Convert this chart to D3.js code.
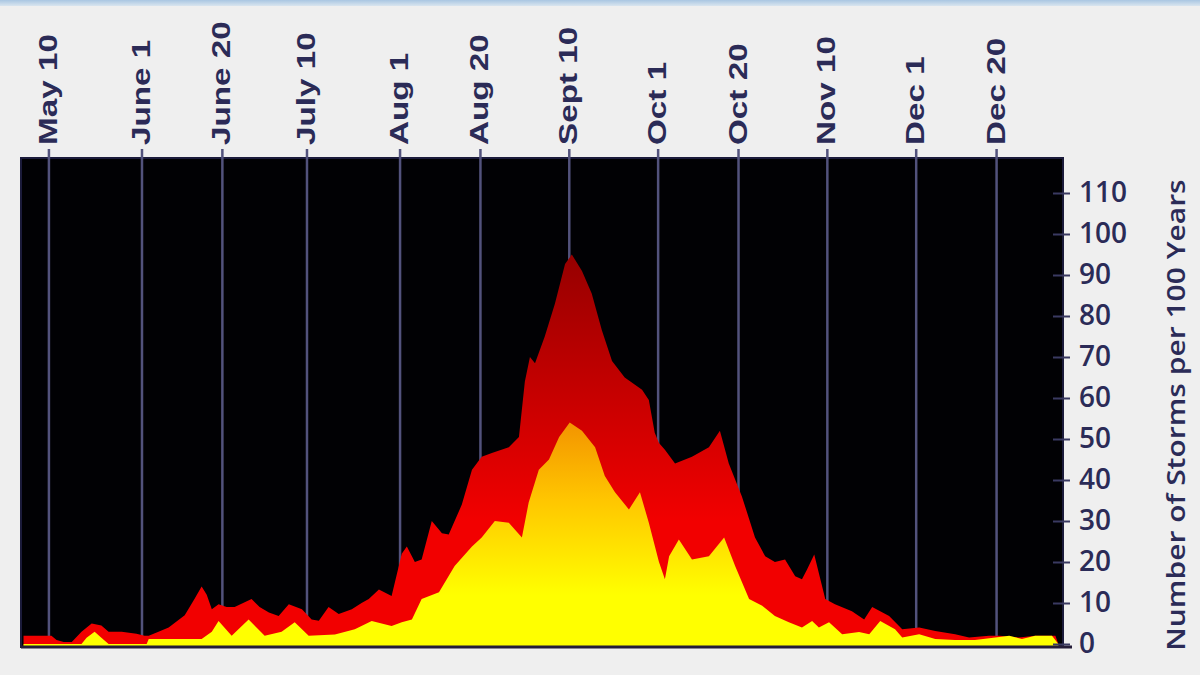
<!DOCTYPE html>
<html>
<head>
<meta charset="utf-8">
<script src="https://cdn.jsdelivr.net/npm/d3@7"></script>
<style>
  html, body { margin: 0; padding: 0; background: #efefef; }
  svg { display: block; }
</style>
</head>
<body>
<svg id="chart" width="1200" height="675"></svg>
<script>
// date ticks (day of year) and their labels
const tickDays = [130, 152, 171, 191, 213, 232, 253, 274, 293, 314, 335, 354];
const tickLabels = ['May 10', 'June 1', 'June 20', 'July 10', 'Aug 1', 'Aug 20',
  'Sept 10', 'Oct 1', 'Oct 20', 'Nov 10', 'Dec 1', 'Dec 20'];
const yTicks = [0, 10, 20, 30, 40, 50, 60, 70, 80, 90, 100, 110];

// all storms (red) - day of year, storms per 100 years
const stormDays = [124, 127, 130.6, 131.8, 133.5, 135.4, 137.7, 140.1, 142.4, 144.1, 147.2, 150.7,
  152.6, 153.6, 155.9, 158.3, 162.1, 164.4, 166.1, 167.3, 168.5, 170.1, 172, 173.9, 177.9, 179.8,
  182, 184.3, 186.7, 189.8, 192.1, 193.8, 196.1, 198.5, 201.6, 203.9, 205.6, 208, 211, 213.4,
  214.6, 216.5, 218.1, 220.5, 222.9, 224.5, 227.6, 230, 232.3, 234.7, 238.7, 241.1, 242.5, 243.7,
  244.9, 247.2, 249.6, 252, 253.6, 256, 258.3, 260.7, 263.1, 266.1, 270.2, 271.8, 273.2, 274.2,
  275.6, 278, 282, 286, 288.6, 290.7, 293.8, 296.9, 299.3, 301.6, 304, 306.4, 308, 309.2, 310.9,
  313.5, 315.8, 319.8, 322.7, 324.6, 328.6, 331.7, 335.7, 339.5, 344.2, 347.5, 352.2, 354.6,
  359.3, 363.1, 367.9, 368.6];
const stormValues = [2, 2, 2, 1, 0.5, 0.5, 3, 5, 4.5, 3, 3, 2.5,
  2, 2, 3, 4, 7, 11, 14, 12, 8.5, 9.7, 9, 9, 11, 9,
  7.7, 6.8, 9.7, 8.5, 6, 5.7, 9, 7.3, 8.5, 10, 11, 13.3, 11.7, 22,
  23.8, 20, 20.6, 30, 27, 26.7, 34, 42.5, 45.7, 46.6, 48, 50.5, 64, 70,
  68.5, 75, 83, 92.7, 95, 91, 85.5, 76.5, 69, 65, 62, 59.5, 51.5, 49,
  47.4, 44, 45.7, 48, 52, 44, 36, 26, 21.4, 20, 20.6, 16.5, 15.8, 18.2, 21.8,
  11, 9.7, 8, 6, 9, 6.8, 3.6, 4, 3.2, 2.4, 1.6, 2, 2,
  1.6, 2, 2, 0];

// hurricanes (yellow)
const hurrDays = [124, 137.7, 138.9, 140.8, 142.4, 144.1, 153.1, 153.6, 166.1, 168.5, 170.1, 173.2,
  177.2, 181, 185, 188.1, 191.4, 197.6, 202.3, 206.3, 211, 213.4, 215.8, 218.1, 222.2, 225.9,
  230, 232.3, 235.4, 238.7, 241.8, 243.4, 245.8, 248.2, 250.6, 253.1, 256, 259.1, 261.4, 263.8,
  267.1, 269.7, 271.8, 274.2, 275.6, 276.6, 278.9, 282, 286, 289.6, 292.2, 295.5, 298.6, 301.6,
  304.9, 308, 310.4, 312, 314.4, 317.5, 321.5, 323.9, 326.5, 330, 331.7, 335.7, 339.5, 344.2,
  348.9, 353.7, 357, 360, 363.1, 367.1, 368.6];
const hurrValues = [0, 0, 1.5, 3, 1.5, 0, 0, 1.2, 1.2, 3, 5.6, 2,
  6, 2, 3, 5.3, 2, 2.3, 3.6, 5.6, 4.4, 5.3, 6, 11, 12.6, 19,
  23.8, 26, 30, 29.6, 26, 34.5, 42.5, 45, 50.5, 54, 52, 48, 41, 37,
  32.8, 37, 29.6, 20, 15.8, 21.4, 25.5, 20.6, 21.4, 26, 19, 11, 9.3, 6.8,
  5.3, 4, 5.6, 4, 5.3, 2.4, 2.9, 2.4, 5.6, 3.6, 1.6, 2.4, 1.2, 1,
  1, 1.6, 2, 1.2, 2, 2, 0];

const svg = d3.select('#chart');
const plot = { left: 21, right: 1063, top: 158, bottom: 647 };
const ink = '#2b2b57';

const x = d3.scaleLinear().domain([123.4, 369.7]).range([plot.left, plot.right]);
const y = d3.scaleLinear().domain([0, 110]).range([644, 193]);

// background + thin blue strip at the very top
const defs = svg.append('defs');
const band = defs.append('linearGradient').attr('id', 'band').attr('x1', 0).attr('y1', 0).attr('x2', 0).attr('y2', 1);
band.append('stop').attr('offset', 0).attr('stop-color', '#a9c6e2');
band.append('stop').attr('offset', 1).attr('stop-color', '#d9e5ef');
svg.append('rect').attr('width', 1200).attr('height', 675).attr('fill', '#efefef');
svg.append('rect').attr('width', 1200).attr('height', 6).attr('fill', 'url(#band)');

// gradients follow the height on screen
const redGrad = defs.append('linearGradient').attr('id', 'redGrad')
  .attr('gradientUnits', 'userSpaceOnUse')
  .attr('x1', 0).attr('x2', 0).attr('y1', y(95)).attr('y2', y(30));
redGrad.append('stop').attr('offset', 0).attr('stop-color', '#960000');
redGrad.append('stop').attr('offset', 0.5).attr('stop-color', '#c40000');
redGrad.append('stop').attr('offset', 1).attr('stop-color', '#f20000');

const yelGrad = defs.append('linearGradient').attr('id', 'yelGrad')
  .attr('gradientUnits', 'userSpaceOnUse')
  .attr('x1', 0).attr('x2', 0).attr('y1', y(54)).attr('y2', y(12));
yelGrad.append('stop').attr('offset', 0).attr('stop-color', '#f39400');
yelGrad.append('stop').attr('offset', 0.45).attr('stop-color', '#ffc600');
yelGrad.append('stop').attr('offset', 1).attr('stop-color', '#ffff00');

// plot area
svg.append('rect')
  .attr('x', plot.left).attr('y', plot.top)
  .attr('width', plot.right - plot.left).attr('height', plot.bottom - plot.top)
  .attr('fill', '#010104')
  .attr('stroke', '#1b1b3b').attr('stroke-width', 2);

// vertical date lines (they poke out above the plot as ticks)
svg.append('g').selectAll('line')
  .data(tickDays)
  .enter().append('line')
  .attr('x1', d => x(d)).attr('x2', d => x(d))
  .attr('y1', 149).attr('y2', plot.bottom)
  .attr('stroke', '#52527c').attr('stroke-width', 2.5);

// date labels, rotated and stretched along their length
svg.append('g').selectAll('text')
  .data(tickDays)
  .enter().append('text')
  .attr('transform', d => 'translate(' + x(d) + ',145) rotate(-90) scale(1.33,1)')
  .attr('y', 8)
  .attr('text-anchor', 'start')
  .attr('font-family', '"Liberation Sans", Arial, sans-serif')
  .attr('font-weight', 'bold')
  .attr('font-size', 25)
  .attr('fill', ink)
  .text((d, i) => tickLabels[i]);

// areas
const stormData = stormDays.map((d, i) => [d, stormValues[i]]);
const hurrData = hurrDays.map((d, i) => [d, hurrValues[i]]);

const area = d3.area()
  .x(d => x(d[0]))
  .y0(plot.bottom)
  .y1(d => y(d[1]));

svg.append('path').datum(stormData).attr('d', area).attr('fill', 'url(#redGrad)');
svg.append('path').datum(hurrData).attr('d', area).attr('fill', 'url(#yelGrad)');

// bottom axis line
svg.append('line')
  .attr('x1', plot.left).attr('x2', 1072)
  .attr('y1', plot.bottom).attr('y2', plot.bottom)
  .attr('stroke', '#241c38').attr('stroke-width', 3);

// right value axis
const yAxis = svg.append('g')
  .attr('transform', 'translate(1053,0)')
  .call(d3.axisRight(y).tickValues(yTicks).tickSize(17).tickPadding(9));
yAxis.select('.domain').remove();
yAxis.selectAll('line').attr('stroke', '#3a3a62').attr('stroke-width', 2);
yAxis.selectAll('text')
  .attr('font-family', '"Open Sans", sans-serif')
  .attr('font-weight', 600)
  .attr('font-size', 28)
  .attr('fill', ink);

// axis title
svg.append('text')
  .attr('transform', 'translate(1185,415) rotate(-90) scale(1.2,1)')
  .attr('text-anchor', 'middle')
  .attr('font-family', '"Open Sans", sans-serif')
  .attr('font-weight', 600)
  .attr('font-size', 25)
  .attr('fill', ink)
  .text('Number of Storms per 100 Years');
</script>
</body>
</html>
